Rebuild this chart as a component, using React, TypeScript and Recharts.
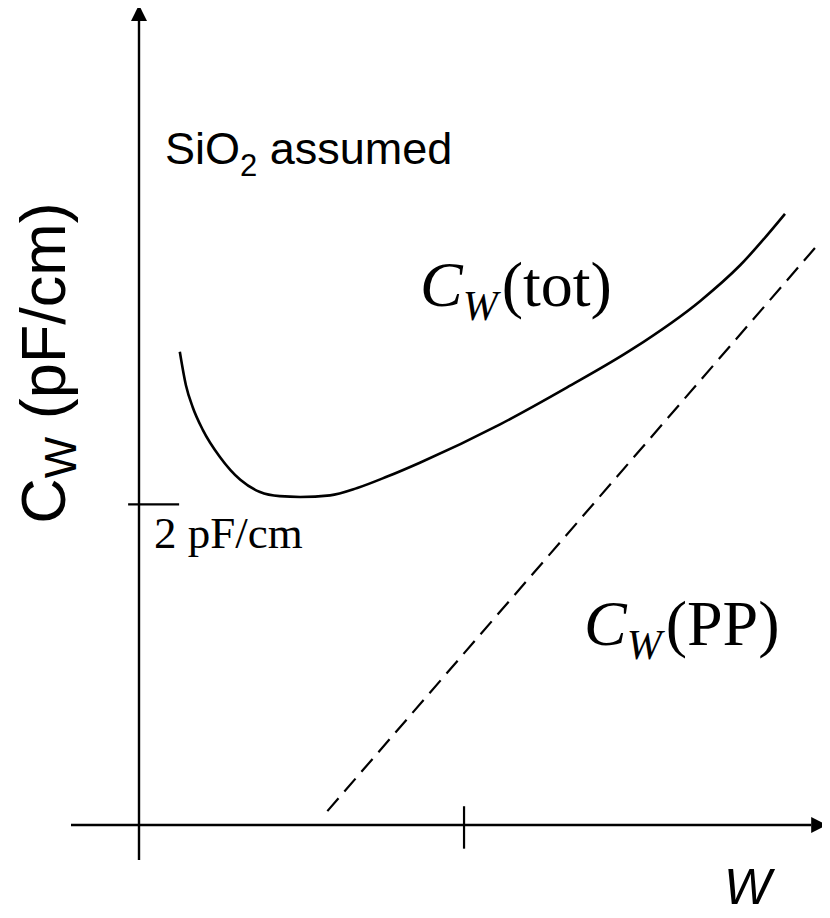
import { ComposedChart, Line, XAxis, YAxis, ReferenceLine } from 'recharts';

// C_W(tot) curve (W in arbitrary units, C in arbitrary units)
const wTot = [0.6, 0.69, 0.79, 0.94, 1.19, 1.49, 1.78, 2.07, 2.37, 2.81, 3.21, 3.65, 4.13, 5.31, 6.29, 7.27, 8.25, 8.84, 9.5];
const cTot = [5.8, 5.39, 5.12, 4.84, 4.51, 4.23, 4.08, 4.03, 4.02, 4.04, 4.13, 4.27, 4.44, 4.91, 5.36, 5.84, 6.42, 6.86, 7.49];

// C_W(PP) straight dashed line
const wPP = [2.77, 9.94];
const cPP = [0.17, 7.07];

// axis extents and tick positions
const xAxisFrom = -1.0;
const xAxisTo = 10.12;
const yAxisFrom = -0.43;
const yAxisTo = 10.05;
const wTick = 4.78;
const cTick = 3.93;

const totData = wTot.map((w, i) => ({ w, c: cTot[i] }));
const ppData = wPP.map((w, i) => ({ w, c: cPP[i] }));

const Arrow = (props: any) => {
  const { x1, y1, x2, y2 } = props;
  const dx = x2 - x1;
  const dy = y2 - y1;
  const len = Math.sqrt(dx * dx + dy * dy) || 1;
  const ux = dx / len;
  const uy = dy / len;
  const bx = x2 - ux * 16;
  const by = y2 - uy * 16;
  const px = -uy * 8;
  const py = ux * 8;
  return (
    <g>
      <line x1={x1} y1={y1} x2={bx} y2={by} stroke="#000" strokeWidth={2.4} />
      <polygon points={`${x2},${y2} ${bx + px},${by + py} ${bx - px},${by - py}`} fill="#000" />
    </g>
  );
};

const sans = '"Liberation Sans", Arial, sans-serif';
const serif = '"Liberation Serif", "Times New Roman", serif';

export default function App() {
  return (
    <div style={{ position: 'relative', width: 822, height: 910 }}>
      <ComposedChart
        width={822}
        height={910}
        margin={{ top: 1, right: 11, bottom: 93, left: 131 }}
      >
        <XAxis type="number" dataKey="w" domain={[0, 10]} hide allowDataOverflow />
        <YAxis type="number" dataKey="c" domain={[0, 10]} hide allowDataOverflow />
        <ReferenceLine
          segment={[{ x: xAxisFrom, y: 0 }, { x: xAxisTo, y: 0 }]}
          ifOverflow="visible"
          shape={Arrow}
        />
        <ReferenceLine
          segment={[{ x: 0, y: yAxisFrom }, { x: 0, y: yAxisTo }]}
          ifOverflow="visible"
          shape={Arrow}
        />
        <ReferenceLine
          segment={[{ x: wTick, y: -0.29 }, { x: wTick, y: 0.23 }]}
          ifOverflow="visible"
          stroke="#000"
          strokeWidth={2.2}
        />
        <ReferenceLine
          segment={[{ x: -0.16, y: cTick }, { x: 0.59, y: cTick }]}
          ifOverflow="visible"
          stroke="#000"
          strokeWidth={2.2}
        />
        <Line
          data={totData}
          dataKey="c"
          type="monotone"
          stroke="#000"
          strokeWidth={2.6}
          dot={false}
          isAnimationActive={false}
        />
        <Line
          data={ppData}
          dataKey="c"
          type="linear"
          stroke="#000"
          strokeWidth={2.2}
          strokeDasharray="17 9"
          dot={false}
          isAnimationActive={false}
        />
      </ComposedChart>
      <svg
        width={822}
        height={910}
        style={{ position: 'absolute', left: 0, top: 0, pointerEvents: 'none' }}
      >
        <text x={157} y={156} fontFamily={sans} fontSize={45} fill="#000">
          SiO
          <tspan fontSize={31} dy={12}>2</tspan>
          <tspan dy={-12}> assumed</tspan>
        </text>
        <text
          x={0}
          y={0}
          transform="translate(57,355) rotate(-90)"
          textAnchor="middle"
          fontFamily={sans}
          fontSize={63}
          fill="#000"
        >
          C
          <tspan fontSize={44} dy={11}>W</tspan>
          <tspan dy={-11}> (pF/cm)</tspan>
        </text>
        <text x={146} y={540} fontFamily={serif} fontSize={45} fill="#000">
          2 pF/cm
        </text>
        <text x={412} y={298} fontFamily={serif} fontSize={64} fill="#000">
          <tspan fontStyle="italic">C</tspan>
          <tspan fontStyle="italic" fontSize={42} dy={14}>W</tspan>
          <tspan dy={-14} dx={4}>(tot)</tspan>
        </text>
        <text x={576} y={637} fontFamily={serif} fontSize={64} fill="#000">
          <tspan fontStyle="italic">C</tspan>
          <tspan fontStyle="italic" fontSize={42} dy={14}>W</tspan>
          <tspan dy={-14} dx={4}>(PP)</tspan>
        </text>
        <text x={716} y={896} fontFamily={sans} fontStyle="italic" fontSize={50} fill="#000">
          W
        </text>
      </svg>
    </div>
  );
}
